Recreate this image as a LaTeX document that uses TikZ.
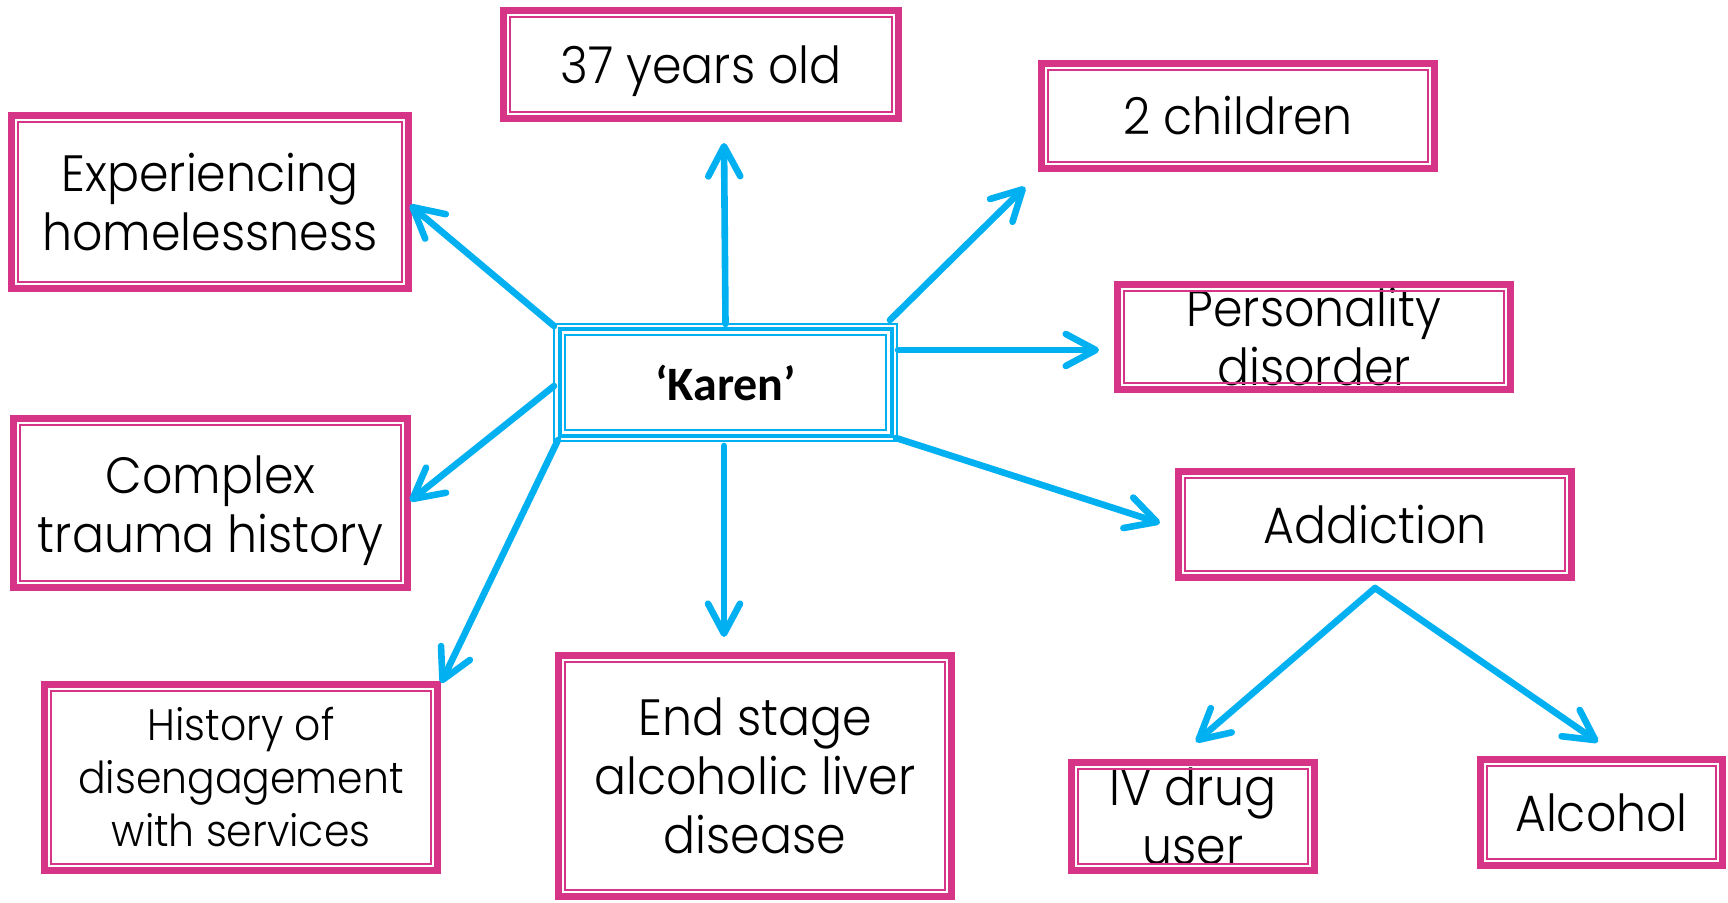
\documentclass[tikz,border=0pt]{standalone}
\usepackage{fontspec}
\setmainfont{Poppins}[UprightFont=* Light, FakeStretch=0.93]
\newfontfamily\karenfont{Carlito}
\usetikzlibrary{arrows.meta,calc}
\definecolor{pinkc}{RGB}{214,53,135}
\definecolor{bluec}{RGB}{0,176,240}
\newcommand\bx[4][0pt]{\parbox[c][#3][c]{#2}{\centering\vspace*{#1}#4}}
\tikzset{
  pbox/.style={draw=pinkc, line width=3.4pt, rectangle, inner sep=0pt, outer sep=0pt, fill=white,
    font=\fontsize{25.5}{29.5}\selectfont, text=black},
  arr/.style={draw=bluec, line width=3.3pt, line cap=round,
    -{Straight Barb[length=15pt,width=16pt,line cap=round,line join=round]}},
}
\begin{document}
\begin{tikzpicture}[x=0.5pt,y=-0.5pt]
\useasboundingbox[fill=white] (0,0) rectangle (1728,903);
% boxes
\node[pbox] (age) at (701,64.5) {\bx[7pt]{197.6pt}{54.1pt}{37 years old}};
\node[pbox] (kids) at (1238,116) {\bx{196.6pt}{52.6pt}{2 children}};
\node[pbox] (home) at (210,202) {\bx{198.6pt}{86.6pt}{Experiencing\\homelessness}};
\node[pbox] (pers) at (1314,337) {\bx{196.6pt}{52.6pt}{Personality\\disorder}};
\node[pbox] (trauma) at (210.5,503) {\bx[8pt]{197.1pt}{84.6pt}{Complex\\trauma history}};
\node[pbox] (addict) at (1375,524.5) {\bx{196.6pt}{53.1pt}{Addiction}};
\node[pbox, font=\fontsize{22}{26.5}\selectfont] (hist) at (241,777.5) {\bx{196.6pt}{93.1pt}{History of\\disengagement\\with services}};
\node[pbox] (endst) at (755,776) {\bx{196.6pt}{120.6pt}{End stage\\alcoholic liver\\disease}};
\node[pbox] (iv) at (1193,816.5) {\bx{121.6pt}{54.1pt}{IV drug\\user}};
\node[pbox] (alc) at (1601.5,812.5) {\bx{121.1pt}{53.1pt}{Alcohol}};
\foreach \n in {age,kids,home,pers,trauma,addict,hist,endst,iv,alc}
  \draw[pinkc, line width=1pt] ($(\n.south west)+(3.2pt,3.2pt)$) rectangle ($(\n.north east)+(-3.2pt,-3.2pt)$);
% central node
\node[draw=bluec, line width=0.9pt, inner sep=0pt, outer sep=0pt,
      font=\karenfont\bfseries\fontsize{24}{27}\selectfont] (karen) at (725.5,382.5)
      {\bx{171.6pt}{58.6pt}{‘Karen’}};
\draw[bluec, line width=2pt] ($(karen.south west)+(2.8pt,2.8pt)$) rectangle ($(karen.north east)+(-2.8pt,-2.8pt)$);
\draw[bluec, line width=0.9pt] ($(karen.south west)+(5.5pt,5.5pt)$) rectangle ($(karen.north east)+(-5.5pt,-5.5pt)$);
% coordinates
\coordinate (tAge) at (724,143);
\coordinate (sKids) at (890,320);
\coordinate (tKids) at (1025,187);
\coordinate (sPers) at (898,350);
\coordinate (tPers) at (1099,350);
\coordinate (sAdd) at (896,438);
\coordinate (tAdd) at (1160,523);
\coordinate (sEnd) at (724,446);
\coordinate (tEnd) at (724,637);
\coordinate (sHist) at (558,440);
\coordinate (tHist) at (441,683);
\coordinate (sTr) at (554,386);
\coordinate (tTr) at (410,501);
\coordinate (sHome) at (554,326);
\coordinate (tHome) at (410,205);
\coordinate (sBr) at (1375,588);
\coordinate (tIV) at (1196,742);
\coordinate (tAlc) at (1598,742);
% arrows
\draw[arr] (karen.north) -- (tAge);
\draw[arr] (sKids) -- (tKids);
\draw[arr] (sPers) -- (tPers);
\draw[arr] (sAdd) -- (tAdd);
\draw[arr] (sEnd) -- (tEnd);
\draw[arr] (sHist) -- (tHist);
\draw[arr] (sTr) -- (tTr);
\draw[arr] (sHome) -- (tHome);
\draw[arr] (sBr) -- (tIV);
\draw[arr] (sBr) -- (tAlc);
\end{tikzpicture}
\end{document}
